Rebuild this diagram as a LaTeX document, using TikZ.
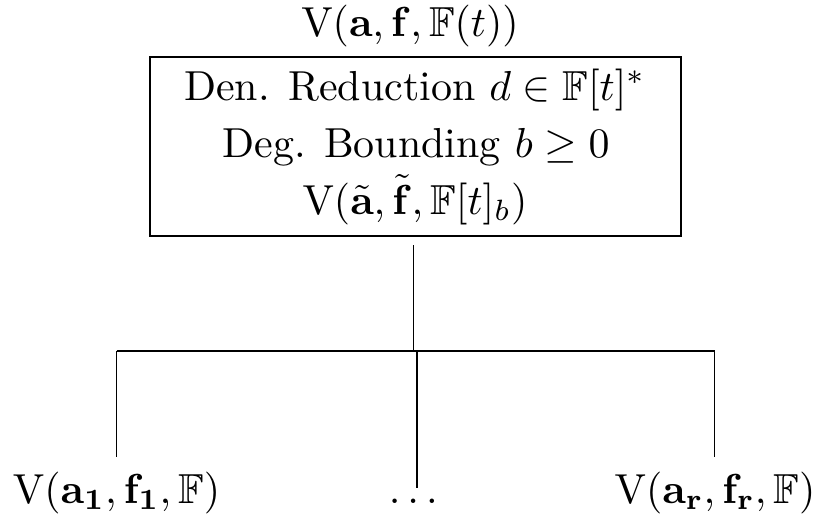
\documentclass[tikz,border=0pt]{standalone}
\usepackage{amsmath,amssymb}
\begin{document}
\begin{tikzpicture}[x=0.2385pt,y=-0.2385pt,
  txt/.style={font=\normalsize, inner sep=0pt, anchor=base},
  boxst/.style={draw, line width=0.3pt, inner sep=0pt, minimum width=126.64pt, minimum height=42.69pt},
  ln/.style={line width=0.3pt}]
\useasboundingbox (0,0) rectangle (816,518);
\node[txt] (root) at (410,36) {$\mathrm{V}(\mathbf{a},\mathbf{f},\mathbb{F}(t))$};
\node[boxst] (box) at (415.5,146.5) {};
\node[txt] (l1) at (415,100) {Den. Reduction $d\in\mathbb{F}[t]^*$};
\node[txt] (l2) at (416,157) {Deg. Bounding $b\geq 0$};
\node[txt] (l3) at (415,214) {$\mathrm{V}(\tilde{\mathbf{a}},\tilde{\mathbf{f}},\mathbb{F}[t]_b)$};
\node[txt] (c1) at (116.5,503) {$\mathrm{V}(\mathbf{a_1},\mathbf{f_1},\mathbb{F})$};
\node[txt] (c2) at (413.3,503) {$\ldots$};
\node[txt] (c3) at (715,503) {$\mathrm{V}(\mathbf{a_r},\mathbf{f_r},\mathbb{F})$};
\coordinate (top) at (413.7,245);
\coordinate (j) at (413.7,351);
\coordinate (jl) at (116.7,351);
\coordinate (jm) at (417,351);
\coordinate (jr) at (714.7,351);
\coordinate (el) at (116.7,457);
\coordinate (em) at (417,488);
\coordinate (er) at (714.7,457);
\draw[ln] (top) -- (j);
\draw[ln] (jl) -- (jr);
\draw[ln] (jl) -- (el);
\draw[ln] (jm) -- (em);
\draw[ln] (jr) -- (er);
\end{tikzpicture}
\end{document}
